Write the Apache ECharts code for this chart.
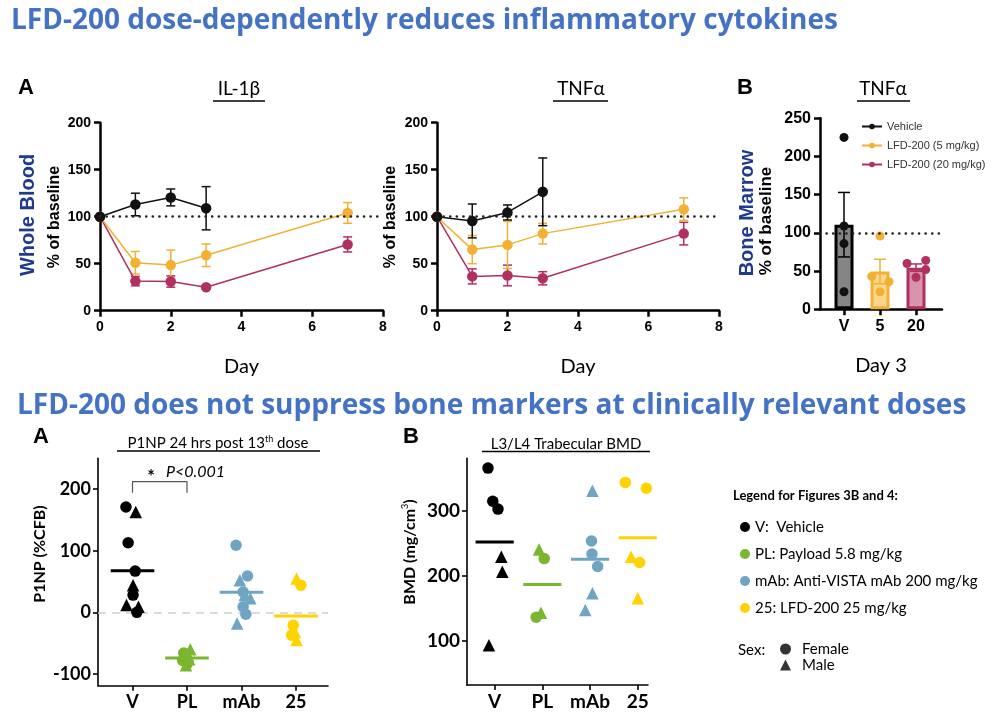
<!DOCTYPE html>
<html>
<head>
<meta charset="utf-8">
<script src="https://cdn.jsdelivr.net/npm/echarts@6/dist/echarts.min.js"></script>
<style>
  html, body { margin: 0; padding: 0; background: #fff; }
  #chart { width: 999px; height: 726px; }
</style>
</head>
<body>
<div id="chart"></div>
<script>
// ---- data ----
const days = [0, 1, 2, 3, 7];
const vehDays = [0, 1, 2, 3];

// IL-1b, whole blood (% of baseline), mean and SEM
const il1bVeh = [100, 113, 120.5, 109];
const il1bVehSem = [0, 12, 9, 23];
const il1b5 = [100, 51, 48.5, 59, 104];
const il1b5Sem = [0, 12, 16, 12, 11];
const il1b20 = [100, 31.5, 31, 25, 70.5];
const il1b20Sem = [0, 5, 6, 2, 8];

// TNFa, whole blood
const tnfVeh = [100, 95.5, 104.5, 126.5];
const tnfVehSem = [0, 18, 8, 36];
const tnf5 = [100, 65, 70, 82, 108];
const tnf5Sem = [0, 15, 25, 11, 12];
const tnf20 = [100, 36.5, 37.5, 34.5, 82];
const tnf20Sem = [0, 8, 11, 7, 12];

// TNFa, bone marrow, day 3 (individual animals)
const bmCats = ['V', '5', '20'];
const bmV = [225, 109, 86, 23];
const bm5 = [96, 43, 36, 23];
const bm20 = [60, 64, 52, 42];
const bmJit = [[0, 0, 0, 0], [0, -0.23, 0.25, 0], [-0.25, 0.27, 0.27, 0]];

// bone markers
const groups = ['V', 'PL', 'mAb', '25'];
const groupNames = ['V:  Vehicle', 'PL: Payload 5.8 mg/kg', 'mAb: Anti-VISTA mAb 200 mg/kg', '25: LFD-200 25 mg/kg'];

const p1npF = [[171, 113, 67, 28, 0], [-66, -72, -78, -84], [109, 59, 33, 9, -3], [44, -21, -37]];
const p1npFJit = [[-0.12, -0.08, 0.05, 0.01, 0.08], [-0.06, -0.03, -0.08, 0.0], [-0.1, 0.11, 0.03, 0.03, 0.08], [0.09, -0.05, -0.08]];
const p1npM = [[163, 44, 12, 9], [-60, -70, -76, -86], [52, 28, 23, -18], [55, -32, -45]];
const p1npMJit = [[0.06, 0.01, -0.11, 0.11], [0.06, 0.02, 0.04, -0.02], [-0.03, 0.06, 0.16, -0.08], [0.01, -0.02, 0.01]];

const bmdF = [[365, 314, 302], [226, 136], [253, 233, 214], [343, 334, 220]];
const bmdFJit = [[-0.14, -0.04, 0.07], [0.04, -0.13], [0.03, 0.04, 0.16], [-0.26, 0.18, 0.04]];
const bmdM = [[229, 206, 93], [240, 143], [330, 173, 147], [229, 165]];
const bmdMJit = [[0.14, 0.16, -0.12], [-0.07, -0.03], [0.05, 0.05, -0.1], [-0.14, 0.0]];

// ---- styles ----
const C_VEH = '#111111', C_5 = '#f2b134', C_20 = '#b0305f';
const G_COL = ['#000000', '#7ab62f', '#6fa5c2', '#ffd200'];
const ARIAL = '"Liberation Sans", Arial, sans-serif';
const CAL = 'Lato, "Open Sans", sans-serif';

const mean = a => a.reduce((s, v) => s + v, 0) / a.length;
const sem = a => {
    const m = mean(a);
    return Math.sqrt(a.reduce((s, v) => s + (v - m) * (v - m), 0) / (a.length - 1)) / Math.sqrt(a.length);
};

function axisParts(width, tickLen, font, size, margin) {
    return {
        splitLine: { show: false },
        axisLine: { show: true, onZero: false, lineStyle: { color: '#000', width: width } },
        axisTick: { show: true, inside: false, length: tickLen, lineStyle: { color: '#000', width: width } },
        axisLabel: { fontFamily: font, fontWeight: 'bold', fontSize: size, color: '#000', margin: margin }
    };
}

// error bar drawer
function errBar(cap) {
    return function (params, api) {
        const x = api.value(0);
        const lo = api.coord([x, api.value(1)]);
        const hi = api.coord([x, api.value(2)]);
        const st = { stroke: api.visual('color'), lineWidth: 1.5 };
        return {
            type: 'group', children: [
                { type: 'line', shape: { x1: lo[0], y1: lo[1], x2: hi[0], y2: hi[1] }, style: st },
                { type: 'line', shape: { x1: hi[0] - cap, y1: hi[1], x2: hi[0] + cap, y2: hi[1] }, style: st },
                { type: 'line', shape: { x1: lo[0] - cap, y1: lo[1], x2: lo[0] + cap, y2: lo[1] }, style: st }
            ]
        };
    };
}

// group mean line drawer
function meanLine(params, api) {
    const x = api.value(0), m = api.value(1);
    const p1 = api.coord([x - 0.4, m]), p2 = api.coord([x + 0.4, m]);
    return { type: 'line', shape: { x1: p1[0], y1: p1[1], x2: p2[0], y2: p2[1] }, style: { stroke: api.visual('color'), lineWidth: 3 } };
}

const dotted = { type: [0.1, 6.5], cap: 'round', width: 2.6, color: '#222' };

const series = [];

function timeCourse(idx, veh, vehSem, d5, d5Sem, d20, d20Sem) {
    const sets = [
        ['LFD-200 (20 mg/kg)', days, d20, d20Sem, C_20],
        ['LFD-200 (5 mg/kg)', days, d5, d5Sem, C_5],
        ['Vehicle', vehDays, veh, vehSem, C_VEH]
    ];
    sets.forEach(([name, xs, ms, ss, col]) => {
        series.push({
            type: 'custom', name: name + ' SEM', xAxisIndex: idx, yAxisIndex: idx,
            itemStyle: { color: col }, renderItem: errBar(4.5), z: 3,
            data: xs.map((d, i) => [d, ms[i] - ss[i], ms[i] + ss[i]]).filter((r, i) => ss[i] > 0)
        });
        const s = {
            type: 'line', name: name, xAxisIndex: idx, yAxisIndex: idx,
            data: xs.map((d, i) => [d, ms[i]]),
            symbol: 'circle', symbolSize: 10.5, z: 4,
            itemStyle: { color: col }, lineStyle: { color: col, width: 1.5 }
        };
        if (name === 'Vehicle') {
            s.markLine = { silent: true, symbol: 'none', label: { show: false }, lineStyle: dotted, data: [{ yAxis: 100 }] };
        }
        series.push(s);
    });
}
timeCourse(0, il1bVeh, il1bVehSem, il1b5, il1b5Sem, il1b20, il1b20Sem);
timeCourse(1, tnfVeh, tnfVehSem, tnf5, tnf5Sem, tnf20, tnf20Sem);

// bone marrow bars
const bmGroups = [bmV, bm5, bm20];
const bmFill = ['#858585', '#f9d88d', '#d994ad'];
const bmEdge = ['#000000', C_5, C_20];
const bmDot = [C_VEH, C_5, C_20];
series.push({
    type: 'bar', name: 'BM mean', xAxisIndex: 2, yAxisIndex: 2, barWidth: 19, z: 2,
    data: bmGroups.map((g, i) => ({ value: [i + 1, mean(g)], itemStyle: { color: bmFill[i], borderColor: bmEdge[i], borderWidth: 3 } })),
    markLine: { silent: true, symbol: 'none', label: { show: false }, lineStyle: dotted, z: 5, data: [{ yAxis: 100 }] }
});
bmGroups.forEach((g, i) => {
    series.push({
        type: 'custom', name: 'BM SEM ' + i, xAxisIndex: 2, yAxisIndex: 2, z: 3,
        itemStyle: { color: bmEdge[i] }, renderItem: errBar(6),
        data: [[i + 1, mean(g) - sem(g), mean(g) + sem(g)]]
    });
    series.push({
        type: 'scatter', name: 'BM ' + bmCats[i], xAxisIndex: 2, yAxisIndex: 2, z: 4,
        symbolSize: 9, itemStyle: { color: bmDot[i], opacity: 1 },
        data: g.map((v, k) => [i + 1 + bmJit[i][k], v])
    });
});

// bone markers strip plots
function strip(idx, fem, femJit, mal, malJit) {
    groups.forEach((gname, i) => {
        const x = i + 1;
        series.push({
            type: 'scatter', name: groupNames[i], xAxisIndex: idx, yAxisIndex: idx, z: 3,
            symbol: 'circle', symbolSize: 11.5, itemStyle: { color: G_COL[i], opacity: 1 },
            data: fem[i].map((v, k) => [x + femJit[i][k], v])
        });
        series.push({
            type: 'scatter', name: gname + ' male ' + idx, xAxisIndex: idx, yAxisIndex: idx, z: 3,
            symbol: 'triangle', symbolSize: 12.5, itemStyle: { color: G_COL[i], opacity: 1 },
            data: mal[i].map((v, k) => [x + malJit[i][k], v])
        });
        series.push({
            type: 'custom', name: gname + ' mean ' + idx, xAxisIndex: idx, yAxisIndex: idx, z: 4,
            itemStyle: { color: G_COL[i] }, renderItem: meanLine,
            data: [[x, mean(fem[i].concat(mal[i]))]]
        });
    });
}
strip(3, p1npF, p1npFJit, p1npM, p1npMJit);
strip(4, bmdF, bmdFJit, bmdM, bmdMJit);

// zero line and significance bracket (P1NP)
series.push({
    type: 'line', name: 'bracket', xAxisIndex: 3, yAxisIndex: 3, symbol: 'none', z: 2,
    lineStyle: { color: '#555', width: 1.2 },
    data: [[1, 194], [1, 212], [2, 212], [2, 194]],
    markLine: { silent: true, symbol: 'none', label: { show: false }, z: 1,
        lineStyle: { type: [8, 6], color: '#cfcfcf', width: 1.6 }, data: [{ yAxis: 0 }] }
});
// empty series for the sex key
series.push({ type: 'scatter', name: 'Female', xAxisIndex: 3, yAxisIndex: 3, symbol: 'circle', itemStyle: { color: '#000' }, data: [] });
series.push({ type: 'scatter', name: 'Male', xAxisIndex: 3, yAxisIndex: 3, symbol: 'triangle', itemStyle: { color: '#000' }, data: [] });

// ---- axes ----
const topA = axisParts(2.5, 6, ARIAL, 14, 9);
const topB = axisParts(2.5, 6, ARIAL, 16, 9);
const botA = axisParts(1.6, 5, CAL, 18, 7);
const botB = axisParts(1.6, 5, CAL, 19, 7);
const dayName = { name: 'Day', nameLocation: 'middle', nameGap: 46, nameTextStyle: { fontFamily: CAL, fontSize: 20, color: '#000' } };

function catAxis(base, ticks, labels) {
    return {
        axisTick: Object.assign({}, base.axisTick, { customValues: ticks }),
        axisLabel: Object.assign({}, base.axisLabel, { customValues: ticks, formatter: labels ? (v => labels[Math.round(v) - 1]) : undefined })
    };
}

const xAxis = [
    Object.assign({ type: 'value', gridIndex: 0, min: 0, max: 8, interval: 2 }, topA, dayName),
    Object.assign({ type: 'value', gridIndex: 1, min: 0, max: 8, interval: 2 }, topA, dayName),
    Object.assign({ type: 'value', gridIndex: 2, min: 0.333, max: 3.722 }, topB, {
        name: 'Day 3', nameLocation: 'middle', nameGap: 46, nameTextStyle: { fontFamily: CAL, fontSize: 20, color: '#000' }
    }, catAxis(topB, [1, 2, 3], bmCats)),
    Object.assign({ type: 'value', gridIndex: 3, min: 0.367, max: 4.587 }, botA, catAxis(botA, [1, 2, 3, 4], groups)),
    Object.assign({ type: 'value', gridIndex: 4, min: 0.42, max: 4.215 }, botB, catAxis(botB, [1, 2, 3, 4], groups))
];
const p1npTicks = [-100, 0, 100, 200];
const bmdTicks = [100, 200, 300];
const yAxis = [
    Object.assign({ type: 'value', gridIndex: 0, min: 0, max: 200, interval: 50 }, topA),
    Object.assign({ type: 'value', gridIndex: 1, min: 0, max: 200, interval: 50 }, topA),
    Object.assign({ type: 'value', gridIndex: 2, min: 0, max: 250, interval: 50 }, topB),
    Object.assign({ type: 'value', gridIndex: 3, min: -119, max: 250 }, botA, catAxis(botA, p1npTicks)),
    Object.assign({ type: 'value', gridIndex: 4, min: 32, max: 380 }, botB, catAxis(botB, bmdTicks))
];

// ---- text decorations ----
function txt(x, y, text, font, opts) {
    return Object.assign({
        type: 'text', x: x, y: y, silent: true,
        style: Object.assign({ text: text, font: font, fill: '#000', align: 'left', verticalAlign: 'middle' }, (opts && opts.style) || {})
    }, (opts && opts.el) || {});
}
function vtxt(x, y, text, font, fill) {
    return { type: 'text', x: x, y: y, rotation: Math.PI / 2, silent: true,
        style: { text: text, font: font, fill: fill || '#000', align: 'center', verticalAlign: 'middle' } };
}
function uline(x1, x2, y) {
    return { type: 'line', silent: true, shape: { x1: x1, y1: y, x2: x2, y2: y }, style: { stroke: '#000', lineWidth: 1.4 } };
}
const center = { style: { align: 'center' } };
const BLUE = '#4472c4', NAVY = '#1f3a8c';

const graphic = [
    txt(11, 21, 'LFD-200 dose-dependently reduces inflammatory cytokines', 'bold 28px "Open Sans"', { style: { fill: BLUE } }),
    txt(17, 406, 'LFD-200 does not suppress bone markers at clinically relevant doses', 'bold 28px "Open Sans"', { style: { fill: BLUE } }),

    txt(18, 88, 'A', 'bold 22px "Liberation Sans"'),
    txt(239, 89, 'IL-1β', '19px Lato', center), uline(213, 265, 101),
    txt(581, 89, 'TNFα', '19px Lato', center), uline(553, 608, 101),
    txt(737, 88, 'B', 'bold 22px "Liberation Sans"'),
    txt(883, 89, 'TNFα', '19px Lato', center), uline(857, 910, 101),
    vtxt(28, 215, 'Whole Blood', 'bold 20px "Liberation Sans"', NAVY),
    vtxt(55, 217, '% of baseline', 'bold 16px "Liberation Sans"'),
    vtxt(391, 217, '% of baseline', 'bold 16px "Liberation Sans"'),
    vtxt(747, 213, 'Bone Marrow', 'bold 20px "Liberation Sans"', NAVY),
    vtxt(766, 221, '% of baseline', 'bold 17px "Liberation Sans"'),

    txt(33, 437, 'A', 'bold 22px "Liberation Sans"'),
    {
        type: 'text', x: 218, y: 443, silent: true,
        style: {
            text: '{n|P1NP 24 hrs post 13}{s|th}{n| dose}', align: 'center', verticalAlign: 'middle',
            rich: { n: { font: '15px Lato', fill: '#000', lineHeight: 17 }, s: { font: '9px Lato', fill: '#000', lineHeight: 17, verticalAlign: 'top' } }
        }
    },
    uline(117, 320, 451),
    txt(403, 437, 'B', 'bold 22px "Liberation Sans"'),
    txt(566, 444, 'L3/L4 Trabecular BMD', '15px Lato', center), uline(482, 650, 451.5),
    vtxt(40, 554, 'P1NP (%CFB)', 'bold 16px Lato'),
    {
        type: 'text', x: 410, y: 552, rotation: Math.PI / 2, silent: true,
        style: {
            text: '{n|BMD (mg/cm}{s|3}{n|)}', align: 'center', verticalAlign: 'middle',
            rich: { n: { font: 'bold 16px Lato', fill: '#000', lineHeight: 18 }, s: { font: '9px Lato', fill: '#000', lineHeight: 18, verticalAlign: 'top' } }
        }
    },
    txt(151, 477, '*', 'bold 18px Lato', center),
    txt(166, 472, 'P<0.001', 'italic 16px Lato'),

    txt(733, 496, 'Legend for Figures 3B and 4:', 'bold 13px Lato'),
    txt(738, 650, 'Sex:', '15px Lato')
];

const option = {
    animation: false,
    backgroundColor: '#fff',
    grid: [
        { left: 100, top: 122.7, width: 283, height: 188, outerBoundsMode: 'none' },
        { left: 437, top: 122.7, width: 282, height: 188, outerBoundsMode: 'none' },
        { left: 820, top: 118.3, width: 122, height: 191, outerBoundsMode: 'none' },
        { left: 98, top: 458.3, width: 230, height: 227.4, outerBoundsMode: 'none' },
        { left: 467, top: 458.3, width: 181, height: 226.7, outerBoundsMode: 'none' }
    ],
    legend: [
        {
            orient: 'vertical', left: 856, top: 115, itemGap: 6, itemWidth: 20, itemHeight: 7,
            textStyle: { fontFamily: ARIAL, fontSize: 11, color: '#333', lineHeight: 13 },
            data: ['Vehicle', 'LFD-200 (5 mg/kg)', 'LFD-200 (20 mg/kg)']
        },
        {
            orient: 'vertical', left: 735, top: 513, itemGap: 9, itemWidth: 10, itemHeight: 10,
            textStyle: { fontFamily: CAL, fontSize: 15, color: '#000', lineHeight: 18 },
            data: groupNames.map(n => ({ name: n, icon: 'circle' }))
        },
        {
            orient: 'vertical', left: 775, top: 636, itemGap: 0, itemWidth: 11, itemHeight: 11,
            textStyle: { fontFamily: CAL, fontSize: 15, color: '#000', lineHeight: 16, padding: [0, 0, 0, 6] },
            data: [{ name: 'Female', icon: 'circle' }, { name: 'Male', icon: 'triangle' }]
        }
    ],
    xAxis: xAxis,
    yAxis: yAxis,
    series: series,
    graphic: graphic
};

const chart = echarts.init(document.getElementById('chart'));
chart.setOption(option);
</script>
</body>
</html>
